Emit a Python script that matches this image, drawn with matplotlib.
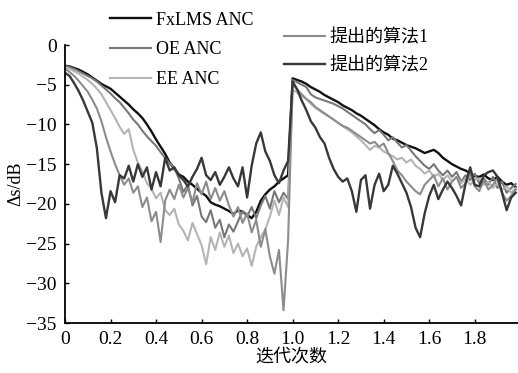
import numpy as np
import matplotlib
matplotlib.use("Agg")
import matplotlib.pyplot as plt

plt.rcParams['font.family'] = ['Liberation Serif', 'Noto Sans CJK SC']
plt.rcParams['axes.unicode_minus'] = True

# sample grid (two runs, system change at t = 1.0)
t1 = np.arange(0.0, 1.0, 0.02)
t2 = np.arange(1.0, 2.0, 0.02)

fxlms_1 = [-2.6, -2.7, -2.9, -3.1, -3.4, -3.7, -4.1, -4.5, -4.9, -5.2,
           -5.5, -6.0, -6.5, -7.0, -7.5, -8.1, -8.6, -9.2, -10.0, -10.9,
           -11.9, -12.8, -13.7, -14.8, -15.6, -16.3, -16.6, -17.2, -17.6, -18.1,
           -18.6, -19.0, -19.8, -20.1, -20.3, -20.6, -20.9, -21.3, -20.8, -21.0,
           -21.4, -21.8, -21.0, -19.6, -18.8, -18.2, -17.8, -17.2, -16.8, -16.4]
fxlms_2 = [-4.2, -4.4, -4.6, -4.9, -5.3, -5.6, -5.9, -6.3, -6.6, -6.9,
           -7.2, -7.6, -7.9, -8.2, -8.6, -8.9, -9.3, -9.7, -10.1, -10.6,
           -11.0, -11.3, -11.8, -12.0, -12.3, -12.6, -12.8, -13.0, -13.3, -13.6,
           -13.4, -13.2, -13.6, -14.2, -14.6, -15.0, -15.3, -15.6, -15.8, -16.2,
           -16.5, -16.6, -16.3, -16.8, -17.0, -16.6, -17.2, -17.6, -17.4, -17.9]

oe_1 = [-2.6, -2.8, -3.0, -3.3, -3.6, -3.9, -4.2, -4.6, -5.1, -5.6,
        -6.1, -6.7, -7.2, -7.9, -8.6, -9.4, -10.0, -10.8, -11.5, -12.1,
        -12.7, -13.5, -14.2, -14.9, -15.4, -16.8, -18.5, -17.6, -20.2, -19.0,
        -21.6, -22.3, -20.8, -23.0, -22.0, -24.2, -22.6, -23.5, -22.2, -20.9,
        -21.6, -20.4, -21.8, -20.2, -19.0, -20.6, -18.4, -19.8, -18.6, -19.4]
oe_2 = [-4.4, -4.7, -5.0, -5.3, -6.2, -6.6, -6.8, -7.0, -7.2, -7.4,
        -7.7, -8.0, -8.4, -8.8, -9.2, -9.6, -10.0, -10.6, -11.1, -10.7,
        -11.3, -12.0, -11.6, -12.3, -12.9, -12.6, -13.3, -14.0, -14.6, -15.2,
        -15.6, -15.0, -15.8, -16.4, -15.8, -16.6, -16.0, -17.2, -16.4, -17.0,
        -16.2, -17.4, -16.8, -17.6, -16.6, -18.0, -17.2, -18.6, -18.0, -17.5]

ee_1 = [-2.8, -3.0, -3.3, -3.6, -4.0, -4.4, -4.9, -5.5, -6.2, -7.2,
        -8.2, -9.2, -10.3, -11.2, -10.6, -13.2, -14.8, -15.9, -17.4, -18.1,
        -19.3, -18.6, -20.8, -21.4, -20.6, -22.6, -23.4, -24.6, -22.4, -23.8,
        -25.2, -27.6, -24.2, -25.8, -23.6, -25.4, -24.0, -26.2, -25.0, -26.6,
        -25.6, -27.8, -25.4, -24.2, -23.2, -21.6, -19.6, -21.4, -19.2, -20.4]
ee_2 = [-5.6, -6.0, -6.4, -6.8, -7.4, -7.9, -8.3, -8.7, -9.0, -9.4,
        -9.8, -10.2, -10.6, -11.0, -11.5, -12.0, -12.6, -13.2, -12.7, -12.9,
        -13.4, -13.7, -14.0, -14.4, -14.2, -14.8, -14.4, -15.2, -15.6, -16.2,
        -15.8, -16.6, -16.2, -17.0, -16.4, -17.2, -16.6, -17.4, -16.8, -17.6,
        -17.0, -16.8, -17.6, -17.2, -18.0, -17.4, -18.2, -17.8, -18.6, -18.0]

p1_1 = [-3.0, -3.4, -3.9, -4.5, -5.2, -5.9, -6.9, -8.0, -9.6, -11.6,
        -13.4, -15.0, -16.4, -17.6, -16.8, -18.6, -17.8, -20.4, -19.2, -22.2,
        -21.0, -24.8, -19.6, -18.2, -19.4, -17.6, -19.2, -18.0, -19.8, -17.4,
        -18.8, -17.2, -19.4, -18.0, -19.6, -18.4, -20.2, -21.6, -20.4, -22.4,
        -21.2, -23.6, -22.0, -25.4, -23.2, -26.6, -28.8, -25.8, -33.4, -24.6]
p1_2 = [-4.8, -5.6, -6.2, -6.8, -7.2, -7.8, -8.2, -8.6, -9.0, -9.4,
        -9.8, -10.2, -10.4, -10.8, -11.2, -11.6, -12.0, -12.4, -12.2, -12.8,
        -12.4, -13.6, -14.6, -15.8, -16.4, -17.2, -17.8, -18.4, -18.8, -17.6,
        -17.0, -16.4, -17.8, -16.8, -18.2, -17.2, -16.6, -18.0, -17.4, -16.2,
        -17.8, -18.4, -17.0, -18.2, -17.6, -16.8, -18.6, -19.6, -19.0, -18.2]

p2_1 = [-3.5, -3.9, -4.8, -5.8, -7.0, -8.4, -9.8, -13.0, -18.6, -21.8,
        -18.4, -19.8, -16.4, -16.8, -15.2, -17.2, -15.0, -16.6, -15.4, -18.2,
        -16.0, -17.8, -14.2, -15.8, -15.4, -16.4, -17.0, -17.8, -16.6, -15.6,
        -14.2, -16.4, -17.0, -16.0, -17.6, -16.6, -15.4, -16.8, -17.8, -15.4,
        -19.2, -15.2, -12.4, -11.0, -13.4, -14.6, -16.4, -17.4, -15.8, -14.6]
p2_2 = [-4.6, -5.6, -7.0, -8.2, -9.6, -10.4, -11.6, -12.4, -14.2, -15.6,
        -16.6, -17.2, -16.8, -18.4, -21.0, -17.0, -16.4, -20.6, -17.6, -16.2,
        -18.4, -17.6, -15.2, -16.2, -17.4, -18.6, -20.4, -23.0, -24.2, -21.2,
        -19.0, -17.6, -19.4, -18.2, -17.2, -18.0, -19.0, -20.2, -17.4, -15.4,
        -17.6, -17.8, -16.4, -16.0, -15.8, -16.6, -18.6, -20.8, -19.2, -18.6]

labels = ['FxLMS ANC', 'OE ANC', 'EE ANC', '提出的算法1', '提出的算法2']
series = [(fxlms_1, fxlms_2), (oe_1, oe_2), (ee_1, ee_2), (p1_1, p1_2), (p2_1, p2_2)]
colors = ['#111111', '#777777', '#b4b4b4', '#8c8c8c', '#383838']
widths = [1.7, 1.5, 1.5, 1.5, 1.7]

t = np.concatenate([t1, t2])

fig = plt.figure(figsize=(5.18, 3.73), dpi=100)
ax = fig.add_axes([65 / 518, 50 / 373, 453 / 518, 278 / 373])

handles = []
for (a, b), c, w, lab in zip(series, colors, widths, labels):
    y = np.concatenate([a, b])
    h, = ax.plot(t, y, color=c, lw=w, label=lab)
    handles.append(h)

ax.set_xlim(0, 1.99)
ax.set_ylim(-35, 0)
ax.set_xticks(np.arange(0, 1.81, 0.2))
ax.set_xticklabels(['0', '0.2', '0.4', '0.6', '0.8', '1.0', '1.2', '1.4', '1.6', '1.8'])
ax.set_yticks(np.arange(-35, 1, 5))
ax.tick_params(direction='in', length=3, width=1, labelsize=14, pad=6)
for s in ['top', 'right']:
    ax.spines[s].set_visible(False)
for s in ['left', 'bottom']:
    ax.spines[s].set_linewidth(1.3)

ax.set_ylabel('Δs/dB', fontsize=13, labelpad=1)
ax.set_xlabel('迭代次数', fontsize=13, labelpad=0)

fig.legend(handles[:3], labels[:3], loc='upper left',
           bbox_to_anchor=(0.212, 0.969), frameon=False, fontsize=13,
           handlelength=2.3, handletextpad=0.25, labelspacing=0.7,
           borderpad=0, borderaxespad=0)
fig.legend(handles[3:], labels[3:], loc='upper left',
           bbox_to_anchor=(0.548, 0.921), frameon=False, fontsize=13,
           handlelength=2.3, handletextpad=0.25, labelspacing=0.6,
           borderpad=0, borderaxespad=0)

fig.savefig('out.png', dpi=100)
